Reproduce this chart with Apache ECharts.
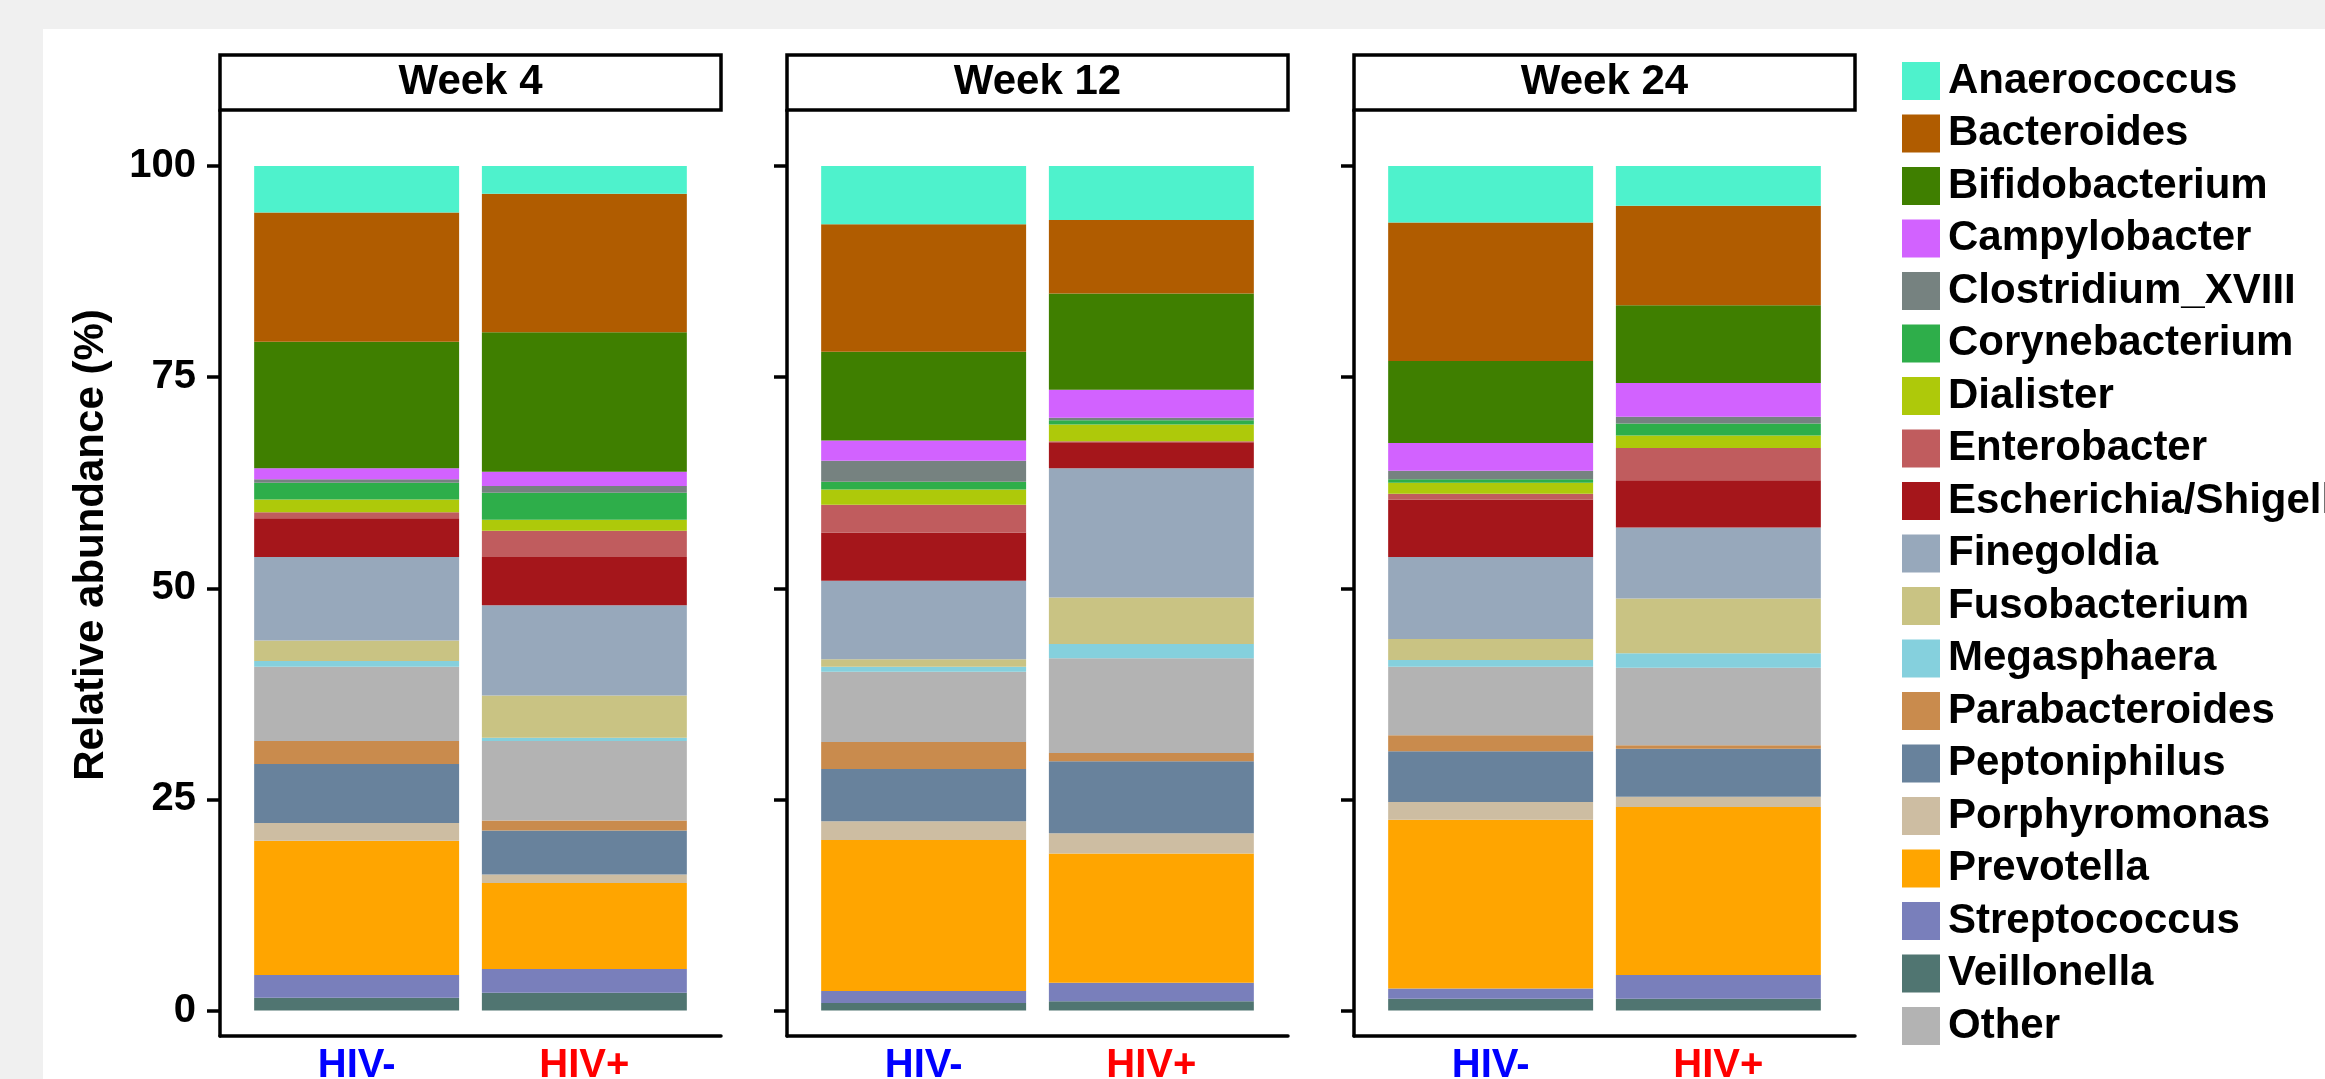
<!DOCTYPE html>
<html>
<head>
<meta charset="utf-8">
<script src="https://cdn.jsdelivr.net/npm/echarts@6/dist/echarts.min.js"></script>
<style>
  html, body { margin: 0; padding: 0; background: #f0f0f0; }
  #chart { width: 2325px; height: 1079px; }
</style>
</head>
<body>
<div id="chart"></div>
<script>
// Groups within each facet and the facet titles
const groups = ['HIV-', 'HIV+'];
const weeks = ['Week 4', 'Week 12', 'Week 24'];
const yTicks = [0, 25, 50, 75, 100];

// Relative abundance (%) per genus:
// [Week4 HIV-, Week4 HIV+, Week12 HIV-, Week12 HIV+, Week24 HIV-, Week24 HIV+]
const anaerococcus     = [5.5, 3.3, 6.9, 6.4, 6.7, 4.7];
const bacteroides      = [15.3, 16.4, 15.1, 8.7, 16.4, 11.8];
const bifidobacterium  = [15.0, 16.5, 10.5, 11.4, 9.7, 9.2];
const campylobacter    = [1.3, 1.7, 2.4, 3.3, 3.3, 4.0];
const clostridiumXVIII = [0.4, 0.8, 2.5, 0.3, 1.0, 0.8];
const corynebacterium  = [2.0, 3.2, 0.9, 0.5, 0.4, 1.4];
const dialister        = [1.5, 1.3, 1.8, 2.0, 1.3, 1.5];
const enterobacter     = [0.7, 3.1, 3.3, 0.1, 0.7, 3.8];
const escherichia      = [4.6, 5.7, 5.7, 3.1, 6.8, 5.6];
const finegoldia       = [9.9, 10.7, 9.3, 15.3, 9.7, 8.4];
const fusobacterium    = [2.4, 5.0, 0.9, 5.5, 2.5, 6.5];
const megasphaera      = [0.7, 0.4, 0.6, 1.7, 0.8, 1.7];
const other            = [8.8, 9.4, 8.3, 11.2, 8.1, 9.2];
const parabacteroides  = [2.7, 1.2, 3.2, 1.0, 1.9, 0.4];
const peptoniphilus    = [7.0, 5.2, 6.2, 8.5, 6.0, 5.7];
const porphyromonas    = [2.1, 1.0, 2.2, 2.4, 2.1, 1.2];
const prevotella       = [15.9, 10.2, 17.9, 15.3, 20.0, 19.9];
const streptococcus    = [2.7, 2.8, 1.4, 2.2, 1.2, 2.8];
const veillonella      = [1.5, 2.1, 0.9, 1.1, 1.4, 1.4];

// Genus names, in the order the legend lists them
const legendOrder = [
  'Anaerococcus', 'Bacteroides', 'Bifidobacterium', 'Campylobacter', 'Clostridium_XVIII',
  'Corynebacterium', 'Dialister', 'Enterobacter', 'Escherichia/Shigella', 'Finegoldia',
  'Fusobacterium', 'Megasphaera', 'Parabacteroides', 'Peptoniphilus', 'Porphyromonas',
  'Prevotella', 'Streptococcus', 'Veillonella', 'Other'
];

// Stacking order, bottom to top (alphabetical, with Other among them)
const stackOrder = [
  ['Veillonella', veillonella, '#507571'],
  ['Streptococcus', streptococcus, '#797fbb'],
  ['Prevotella', prevotella, '#ffa500'],
  ['Porphyromonas', porphyromonas, '#cdbda2'],
  ['Peptoniphilus', peptoniphilus, '#68829c'],
  ['Parabacteroides', parabacteroides, '#c98b4d'],
  ['Other', other, '#b3b3b3'],
  ['Megasphaera', megasphaera, '#85d0dd'],
  ['Fusobacterium', fusobacterium, '#c9c383'],
  ['Finegoldia', finegoldia, '#97a8bb'],
  ['Escherichia/Shigella', escherichia, '#a5161b'],
  ['Enterobacter', enterobacter, '#c05c5e'],
  ['Dialister', dialister, '#aec90a'],
  ['Corynebacterium', corynebacterium, '#2eae4a'],
  ['Clostridium_XVIII', clostridiumXVIII, '#768280'],
  ['Campylobacter', campylobacter, '#d262ff'],
  ['Bifidobacterium', bifidobacterium, '#3f7f00'],
  ['Bacteroides', bacteroides, '#b05c00'],
  ['Anaerococcus', anaerococcus, '#4ef2cc']
];

const FONT = '"Liberation Sans", Arial, Helvetica, sans-serif';

// Facet geometry
const panelLeft = [220, 787, 1354];
const panelWidth = 501;
const frameTop = 110;
const frameBottom = 1036;
const valueTop = 166;       // y of 100 %
const valueBottom = 1010.5; // y of 0 %
const unit = panelWidth / 2.2;     // two groups plus 0.6 padding each side
const innerOffset = unit * 0.1;

const grids = [], xAxes = [], yAxes = [], series = [], graphics = [];

graphics.push({
  type: 'rect', z: -10, silent: true,
  shape: { x: 43, y: 29, width: 2325 - 43, height: 1079 - 29 },
  style: { fill: '#ffffff' }
});

weeks.forEach((wk, p) => {
  const L = panelLeft[p];
  // frame grid: axis lines only
  grids.push({ left: L, top: frameTop, width: panelWidth, height: frameBottom - frameTop,
               containLabel: false, outerBoundsMode: 'none' });
  xAxes.push({
    gridIndex: p, type: 'value', min: 0, max: 1,
    axisLine: { show: true, onZero: false, lineStyle: { color: '#000', width: 3.5 } },
    axisTick: { show: false }, axisLabel: { show: false }, splitLine: { show: false }
  });
  yAxes.push({
    gridIndex: p, type: 'value', min: 0, max: 1,
    axisLine: { show: true, onZero: false, lineStyle: { color: '#000', width: 3.5 } },
    axisTick: { show: false }, axisLabel: { show: false }, splitLine: { show: false },
    name: p === 0 ? 'Relative abundance (%)' : '',
    nameLocation: 'middle', nameRotate: 90, nameGap: 108,
    nameTextStyle: { fontSize: 42, fontWeight: 'bold', color: '#000', fontFamily: FONT,
                     padding: [0, 0, 0, 56] }
  });

  // strip title box
  graphics.push({
    type: 'rect', z: 5,
    shape: { x: L, y: 55, width: panelWidth, height: 55 },
    style: { fill: '#ffffff', stroke: '#000', lineWidth: 3.5 }
  });
  graphics.push({
    type: 'text', z: 6, x: L + panelWidth / 2, y: 82,
    style: { text: wk, fill: '#000', font: 'bold 42px ' + FONT, align: 'center', verticalAlign: 'middle' }
  });
});

weeks.forEach((wk, p) => {
  const L = panelLeft[p];
  const gi = 3 + p;
  grids.push({ left: L + innerOffset, top: valueTop, width: unit * 2, height: valueBottom - valueTop,
               containLabel: false, outerBoundsMode: 'none' });
  xAxes.push({
    gridIndex: gi, type: 'category',
    data: [
      { value: groups[0], textStyle: { color: '#0000ff' } },
      { value: groups[1], textStyle: { color: '#ff0000' } }
    ],
    axisLine: { show: false }, axisTick: { show: false },
    axisLabel: { fontSize: 40, fontWeight: 'bold', fontFamily: FONT, margin: 35 }
  });
  yAxes.push({
    gridIndex: gi, type: 'value', min: yTicks[0], max: yTicks[yTicks.length - 1], interval: 25,
    offset: innerOffset,
    axisLine: { show: false },
    axisTick: { show: true, length: 13, lineStyle: { color: '#000', width: 3.5 } },
    axisLabel: { show: p === 0, fontSize: 40, fontWeight: 'bold', color: '#000', fontFamily: FONT, margin: 24 },
    splitLine: { show: false }
  });
  stackOrder.forEach(([name, vals, color]) => {
    series.push({
      type: 'bar', name: name, stack: 'week' + p,
      xAxisIndex: gi, yAxisIndex: gi,
      barWidth: '90%',
      itemStyle: { color: color },
      emphasis: { disabled: true },
      data: [vals[2 * p], vals[2 * p + 1]]
    });
  });
});

const chart = echarts.init(document.getElementById('chart'), null, { renderer: 'canvas' });
chart.setOption({
  backgroundColor: '#f0f0f0',
  animation: false,
  grid: grids,
  xAxis: xAxes,
  yAxis: yAxes,
  legend: {
    data: legendOrder,
    orient: 'vertical',
    left: 1897, top: 55,
    icon: 'rect',
    itemWidth: 38, itemHeight: 38, itemGap: 10.5,
    textStyle: { fontSize: 42, fontWeight: 'bold', color: '#000', fontFamily: FONT,
                 padding: [0, 0, 0, 3] }
  },
  graphic: graphics,
  series: series
});
</script>
</body>
</html>
